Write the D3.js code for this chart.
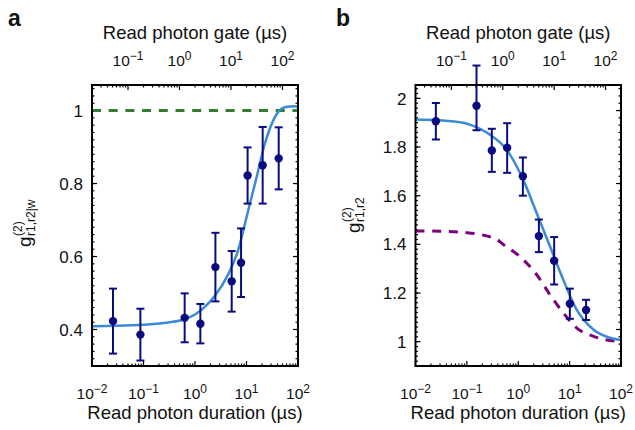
<!DOCTYPE html>
<html><head><meta charset="utf-8">
<script src="https://cdn.jsdelivr.net/npm/d3@7"></script>
<style>
body{margin:0;background:#fff}
svg{display:block}
text{font-family:"Liberation Sans",Arial,Helvetica,sans-serif;fill:#111}
</style>
</head><body>
<svg id="c" width="635" height="430"></svg>
<script>
// ---------- data ----------
const durationA = [0.0256, 0.087, 0.63, 1.27, 2.49, 5.16, 7.84, 10.5, 20.6, 42.2];
const g2A       = [0.423, 0.386, 0.432, 0.416, 0.571, 0.532, 0.583, 0.822, 0.850, 0.869];
const errA      = [0.089, 0.071, 0.067, 0.054, 0.094, 0.083, 0.094, 0.077, 0.105, 0.085];

const fitAx = [0.01, 0.03, 0.1, 0.3, 0.63, 1.0, 1.5, 2.4, 4.4, 6.8, 10.7, 15.6, 22.5, 35, 55, 86, 100];
const fitAy = [0.409, 0.410, 0.413, 0.419, 0.428, 0.441, 0.460, 0.491, 0.551, 0.615, 0.724, 0.816, 0.907, 0.980, 1.009, 1.012, 1.010];
const refA  = 1; // green dashed level

const durationB = [0.0249, 0.154, 0.306, 0.608, 1.23, 2.52, 5.0, 10.1, 20.9];
const g2B       = [1.906, 1.970, 1.786, 1.797, 1.680, 1.434, 1.333, 1.156, 1.130];
const errBUp    = [0.075, 0.165, 0.089, 0.101, 0.077, 0.068, 0.097, 0.062, 0.042];
const errBDown  = [0.075, 0.101, 0.088, 0.103, 0.080, 0.066, 0.098, 0.062, 0.041];

const fitBx = [0.01, 0.03, 0.085, 0.114, 0.28, 0.59, 1.24, 2.27, 4.12, 7.48, 13.6, 28.6, 60.5, 100];
const fitBy = [1.913, 1.910, 1.900, 1.892, 1.851, 1.790, 1.667, 1.530, 1.393, 1.256, 1.133, 1.051, 1.016, 1.007];

const dashBx = [0.01, 0.03, 0.1, 0.38, 0.51, 1.24, 2.27, 4.12, 7.48, 13.6, 28.6, 81, 100];
const dashBy = [1.455, 1.454, 1.448, 1.420, 1.400, 1.338, 1.276, 1.194, 1.119, 1.057, 1.023, 1.002, 1.001];

const xTickExp    = [-2, -1, 0, 1, 2];
const gateTickExp = [-1, 0, 1, 2];
const gateFactor  = 2;          // gate = 2 x duration
const yTicksA = [0.4, 0.6, 0.8, 1];
const yTicksB = [1, 1.2, 1.4, 1.6, 1.8, 2];
const yLabelsA = ["0.4", "0.6", "0.8", "1"];
const yLabelsB = ["1", "1.2", "1.4", "1.6", "1.8", "2"];

// ---------- drawing ----------
const svg = d3.select("#c");
const TOP = 85, BOT = 366;
const navy = "#0b0b80", blue = "#3a8ad6", green = "#2f7f2f", purple = "#7d007d";

const yA = d3.scaleLinear().domain([0.3, 1.07]).range([BOT, TOP]);

function logMinor(lo, hi) {
  const out = [];
  for (let e = -4; e <= 3; e++) for (let m = 2; m <= 9; m++) {
    const v = m * Math.pow(10, e);
    if (v > lo * 1.0001 && v < hi * 0.9999) out.push(v);
  }
  return out;
}
function linMinor(lo, hi, step) {
  const out = [];
  for (let v = Math.ceil(lo / step) * step; v <= hi + 1e-9; v += step) out.push(+v.toFixed(4));
  return out;
}

function powLabel(g, x, y, e) {
  const t = g.append("text").attr("x", x).attr("y", y).attr("text-anchor", "middle")
    .style("font-size", "15.5px");
  t.append("tspan").text("10");
  t.append("tspan").attr("dy", "-0.5em").style("font-size", "12px")
    .text((e < 0 ? "\u2212" : "") + Math.abs(e));
}

function panel(o) {
  const g = svg.append("g");
  const x = d3.scaleLog().domain([0.01, 100]).range([o.x0, o.x1]);
  const xt = d3.scaleLog().domain([0.01 * gateFactor, 100 * gateFactor]).range([o.x0, o.x1]);
  const y = o.y;

  const tk = g.append("g").attr("stroke", "#000").attr("stroke-width", 1.2);
  // bottom ticks
  xTickExp.forEach(e => { const px = x(Math.pow(10, e));
    tk.append("line").attr("x1", px).attr("x2", px).attr("y1", BOT).attr("y2", BOT - 5); });
  logMinor(0.01, 100).forEach(v => { const px = x(v);
    tk.append("line").attr("x1", px).attr("x2", px).attr("y1", BOT).attr("y2", BOT - 2.5); });
  // top ticks (gate)
  gateTickExp.forEach(e => { const px = xt(Math.pow(10, e));
    tk.append("line").attr("x1", px).attr("x2", px).attr("y1", TOP).attr("y2", TOP + 5); });
  logMinor(0.02, 200).forEach(v => { const px = xt(v);
    tk.append("line").attr("x1", px).attr("x2", px).attr("y1", TOP).attr("y2", TOP + 2.5); });
  // left ticks
  o.yTicks.forEach(v => { const py = y(v);
    tk.append("line").attr("x1", o.x0).attr("x2", o.x0 + 5).attr("y1", py).attr("y2", py); });
  linMinor(y.domain()[0], y.domain()[1], 0.02).forEach(v => { const py = y(v);
    tk.append("line").attr("x1", o.x0).attr("x2", o.x0 + 2.5).attr("y1", py).attr("y2", py); });
  // right ticks (shared scale of panel a)
  yTicksA.forEach(v => { const py = yA(v);
    tk.append("line").attr("x1", o.x1).attr("x2", o.x1 - 5).attr("y1", py).attr("y2", py); });
  linMinor(0.3, 1.07, 0.02).forEach(v => { const py = yA(v);
    tk.append("line").attr("x1", o.x1).attr("x2", o.x1 - 2.5).attr("y1", py).attr("y2", py); });

  // tick labels
  xTickExp.forEach(e => powLabel(g, x(Math.pow(10, e)), 399, e));
  gateTickExp.forEach(e => powLabel(g, xt(Math.pow(10, e)), 66, e));
  o.yTicks.forEach((v, i) => g.append("text").attr("x", o.x0 - 9).attr("y", y(v)).attr("dy", "0.36em")
    .attr("text-anchor", "end").style("font-size", "17px").text(o.yLabels[i]));

  // titles
  g.append("text").attr("x", (o.x0 + o.x1) / 2).attr("y", 39).attr("text-anchor", "middle")
    .style("font-size", "18.5px").text("Read photon gate (\u00b5s)");
  g.append("text").attr("x", (o.x0 + o.x1) / 2).attr("y", 419).attr("text-anchor", "middle")
    .style("font-size", "18.5px").text("Read photon duration (\u00b5s)");
  g.append("text").attr("x", o.lx).attr("y", 26).style("font-size", "23px").style("font-weight", "bold")
    .text(o.letter);

  // y label
  const yl = g.append("g").attr("transform", `translate(${o.ylx},${o.yly}) rotate(-90)`);
  const t = yl.append("text").attr("x", 0).attr("y", 0).style("font-size", "19px");
  t.append("tspan").text("g");
  yl.append("text").attr("x", 11).attr("y", -9).style("font-size", "12px").text("(2)");
  yl.append("text").attr("x", 11).attr("y", 4).style("font-size", "12px").text(o.sub);

  const plot = g.append("g");
  if (o.curves) o.curves(plot, x, y);

  // error bars + markers
  const eb = plot.append("g").attr("stroke", navy).attr("stroke-width", 2);
  o.px.forEach((d, i) => {
    const cx = x(d), up = y(o.py[i] + o.eu[i]), dn = y(o.py[i] - o.ed[i]);
    eb.append("line").attr("x1", cx).attr("x2", cx).attr("y1", up).attr("y2", dn);
    eb.append("line").attr("x1", cx - 4).attr("x2", cx + 4).attr("y1", up).attr("y2", up);
    eb.append("line").attr("x1", cx - 4).attr("x2", cx + 4).attr("y1", dn).attr("y2", dn);
  });
  plot.append("g").selectAll("circle").data(o.px).join("circle")
    .attr("cx", d => x(d)).attr("cy", (d, i) => y(o.py[i])).attr("r", 4.2).attr("fill", navy);

  // box
  g.append("rect").attr("x", o.x0).attr("y", TOP).attr("width", o.x1 - o.x0).attr("height", BOT - TOP)
    .attr("fill", "none").attr("stroke", "#000").attr("stroke-width", 2);
}

const lineGen = (x, y) => d3.line().x(d => x(d[0])).y(d => y(d[1])).curve(d3.curveMonotoneX);

panel({
  x0: 92, x1: 298, y: yA, yTicks: yTicksA, yLabels: yLabelsA, letter: "a", lx: 8,
  ylx: 31, yly: 247, sub: "r1,r2|w",
  px: durationA, py: g2A, eu: errA, ed: errA,
  curves: (p, x, y) => {
    p.append("line").attr("x1", x(0.01)).attr("x2", x(100)).attr("y1", y(refA)).attr("y2", y(refA))
      .attr("stroke", green).attr("stroke-width", 3).attr("stroke-dasharray", "9,7.7");
    p.append("path").datum(fitAx.map((v, i) => [v, fitAy[i]])).attr("d", lineGen(x, y))
      .attr("fill", "none").attr("stroke", blue).attr("stroke-width", 2.5);
  }
});

const yB = d3.scaleLinear().domain([0.9, 2.055]).range([BOT, TOP]);
panel({
  x0: 415.5, x1: 621, y: yB, yTicks: yTicksB, yLabels: yLabelsB, letter: "b", lx: 336,
  ylx: 360, yly: 233, sub: "r1,r2",
  px: durationB, py: g2B, eu: errBUp, ed: errBDown,
  curves: (p, x, y) => {
    p.append("path").datum(dashBx.map((v, i) => [v, dashBy[i]])).attr("d", lineGen(x, y))
      .attr("fill", "none").attr("stroke", purple).attr("stroke-width", 3).attr("stroke-dasharray", "9,7.7");
    p.append("path").datum(fitBx.map((v, i) => [v, fitBy[i]])).attr("d", lineGen(x, y))
      .attr("fill", "none").attr("stroke", blue).attr("stroke-width", 2.5);
  }
});
</script>
</body></html>
